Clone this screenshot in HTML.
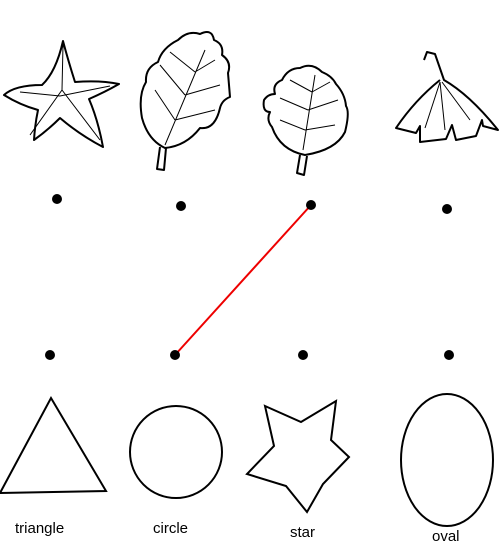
<!DOCTYPE html>
<html><head><meta charset="utf-8"><style>
html,body{margin:0;padding:0;background:#fff;}
svg{display:block;}
text{font-family:"Liberation Sans",sans-serif;font-size:15px;fill:#000;}
</style></head><body>
<svg width="500" height="546" viewBox="0 0 500 546">
<g fill="none" stroke="#000" stroke-width="2" stroke-linejoin="round">
 <path d="M63,41 Q68,60 75,82 Q100,80 119,84 Q105,92 89,99 Q98,120 103,147 Q80,135 60,118 Q48,130 34,140 Q35,124 38,110 Q20,105 4,95 Q15,85 42,85 Q56,72 63,41 Z"/>
 <path d="M165,148 Q148,140 142,118 Q138,95 146,82 Q145,68 158,62 Q162,48 178,40 Q188,30 200,34 Q212,28 214,40 Q224,44 222,55 Q232,62 228,73 L230,97 Q222,100 220,108 Q215,130 200,128 Q186,146 165,148 Z"/>
 <path d="M160,147 L157,169 L164,170 L166,148"/>
 <path d="M305,155 Q280,150 272,127 Q266,120 270,112 Q262,112 264,100 Q268,94 275,94 Q272,84 282,80 Q288,68 300,68 Q312,62 322,72 Q332,76 336,84 Q345,94 346,106 Q350,112 345,132 Q336,150 305,155 Z"/>
 <path d="M300,155 L297,173 L304,175 L307,156"/>
 <path d="M424,60 L427,52 L435,54 L444,80 Q470,95 498,130 L483,126 L482,120 L476,136 L456,140 L452,125 L446,139 L420,142 L420,126 L416,133 L396,128 Q415,100 440,80"/>
</g>
<g stroke="#000" stroke-width="1" fill="none">
 <path d="M20,92 L60,96 L110,86 M63,45 L62,90 L30,135 M62,90 L100,140"/>
 <path d="M165,145 L205,50 M175,120 L155,90 M175,120 L215,110 M185,95 L160,65 M185,95 L220,85 M195,72 L170,52 M195,72 L215,60"/>
 <path d="M303,150 L315,75 M305,130 L280,120 M305,130 L335,125 M308,110 L280,98 M308,110 L338,100 M312,92 L290,80 M312,92 L330,82"/>
 <path d="M440,82 L425,128 M440,82 L445,130 M442,82 L470,120"/>
</g>
<line x1="311" y1="205" x2="175" y2="355" stroke="#e00" stroke-width="2"/>
<g fill="#000">
 <circle cx="57" cy="199" r="5"/>
 <circle cx="181" cy="206" r="5"/>
 <circle cx="311" cy="205" r="5"/>
 <circle cx="447" cy="209" r="5"/>
 <circle cx="50" cy="355" r="5"/>
 <circle cx="175" cy="355" r="5"/>
 <circle cx="303" cy="355" r="5"/>
 <circle cx="449" cy="355" r="5"/>
</g>
<g fill="none" stroke="#000" stroke-width="2" stroke-linejoin="miter">
 <polygon points="51,398 106,491 0,493"/>
 <circle cx="176" cy="452" r="46"/>
 <polygon points="265,406 301,422 336,401 331,440 349,457 323,484 307,512 286,486 247,474 274,446"/>
 <ellipse cx="447" cy="460" rx="46" ry="66"/>
</g>
<text x="15" y="533">triangle</text>
<text x="153" y="533">circle</text>
<text x="290" y="537">star</text>
<text x="432" y="541">oval</text>
</svg>
</body></html>
